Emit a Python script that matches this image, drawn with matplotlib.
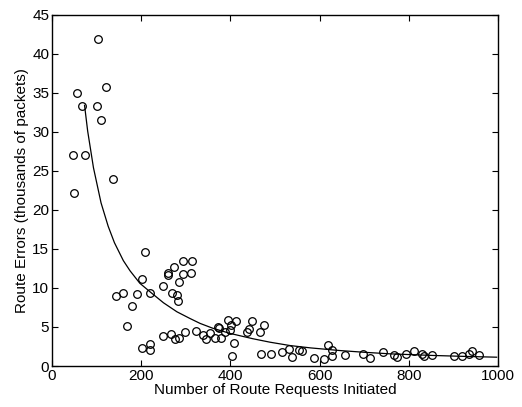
import matplotlib
matplotlib.use("Agg")
import matplotlib.pyplot as plt

# route requests initiated vs. route errors (thousands of packets)
requests = [104, 121, 57, 67, 102, 111, 46, 73, 137, 50,
            209, 294, 314, 274, 259, 261, 293, 311, 285, 202,
            250, 143, 159, 191, 220, 268, 281, 283, 180, 169,
            248, 266, 275, 285, 299, 324, 201, 220, 219,
            338, 345, 354, 365, 380, 372, 375, 389, 395, 402,
            399, 412, 407, 403, 448, 442, 438, 475, 466, 469, 490,
            515, 532, 539, 554, 561, 587, 611, 619, 627, 628, 656,
            697, 712, 743, 767, 774, 794, 812, 829, 835, 853,
            901, 919, 936, 941, 957]
errors = [41.9, 35.8, 35.0, 33.3, 33.3, 31.5, 27.0, 27.0, 23.9, 22.2,
          14.6, 13.4, 13.5, 12.7, 11.9, 11.6, 11.8, 11.9, 10.8, 11.1,
          10.3, 9.0, 9.4, 9.2, 9.4, 9.3, 9.1, 8.3, 7.7, 5.1,
          3.8, 4.1, 3.5, 3.6, 4.3, 4.5, 2.3, 2.8, 2.1,
          4.0, 3.4, 4.2, 3.6, 3.6, 5.0, 4.9, 4.4, 5.9, 5.2,
          4.6, 5.8, 2.9, 1.3, 5.8, 4.8, 4.3, 5.2, 4.4, 1.5, 1.6,
          1.8, 2.2, 1.2, 2.0, 1.9, 1.0, 0.9, 2.7, 2.1, 1.3, 1.4,
          1.5, 1.0, 1.8, 1.4, 1.1, 1.6, 1.9, 1.6, 1.3, 1.4,
          1.3, 1.3, 1.6, 1.9, 1.4]

# fitted trend line
fit_x = [73, 80, 93, 110, 126, 140, 160, 175, 197, 220, 250, 280, 309,
         332, 360, 399, 450, 489, 534, 580, 646, 700, 758, 850, 920, 997]
fit_y = [33.4, 30.1, 25.4, 20.9, 17.9, 15.8, 13.5, 12.2, 10.6, 9.5, 8.1,
         6.95, 6.1, 5.46, 4.85, 4.18, 3.5, 3.05, 2.62, 2.32, 1.98, 1.76,
         1.56, 1.36, 1.24, 1.13]

plt.rcParams['font.family'] = ['Liberation Sans', 'DejaVu Sans']
plt.rcParams['font.size'] = 11

fig = plt.figure(figsize=(5.22, 4.07), dpi=100)
ax = fig.add_axes([0.0996, 0.1007, 0.8544, 0.8630])

ax.plot(requests, errors, 'o', markerfacecolor='none', markeredgecolor='black',
        markersize=5.5, markeredgewidth=0.9)
ax.plot(fit_x, fit_y, '-', color='black', linewidth=0.9)

ax.set_xlim(0, 1000)
ax.set_ylim(0, 45)
ax.set_xticks([0, 200, 400, 600, 800, 1000])
ax.set_yticks([0, 5, 10, 15, 20, 25, 30, 35, 40, 45])
ax.tick_params(direction='in', length=4, width=0.8, top=True, right=True,
               labelsize=11, pad=2)
for s in ax.spines.values():
    s.set_linewidth(1.0)

ax.set_xlabel('Number of Route Requests Initiated', fontsize=11, labelpad=0)
ax.set_ylabel('Route Errors (thousands of packets)', fontsize=11, labelpad=2)

plt.savefig('out.png', dpi=100)
